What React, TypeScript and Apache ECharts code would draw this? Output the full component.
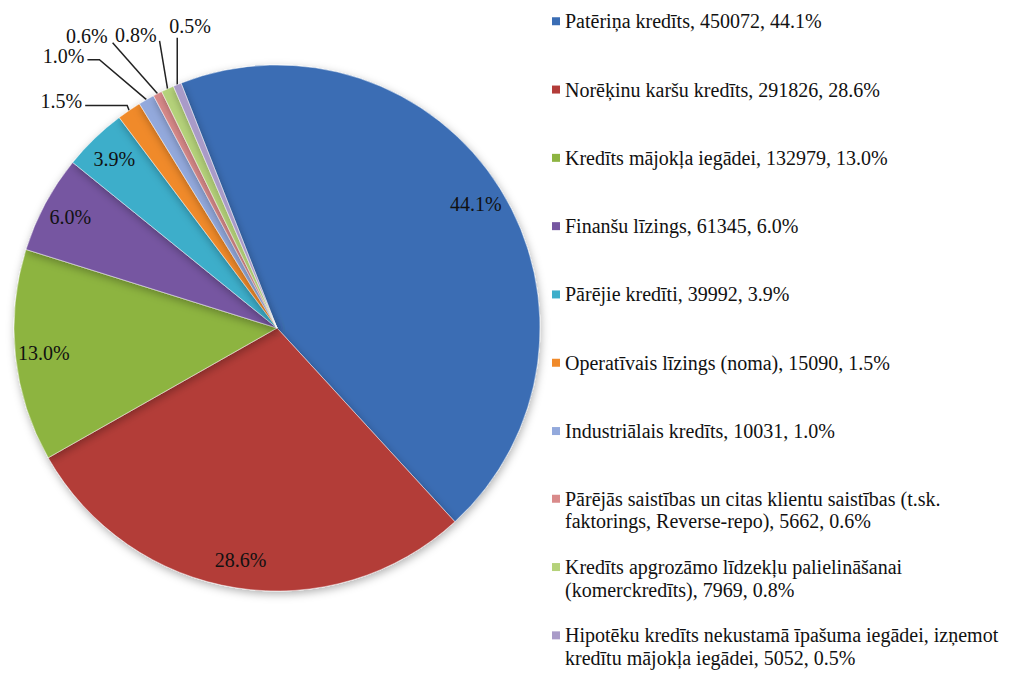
import React, { useEffect, useRef } from "react";
import * as echarts from "echarts";

// ---- data ----
const categories: string[] = [
  "Patēriņa kredīts",
  "Norēķinu karšu kredīts",
  "Kredīts mājokļa iegādei",
  "Finanšu līzings",
  "Pārējie kredīti",
  "Operatīvais līzings (noma)",
  "Industriālais kredīts",
  "Pārējās saistības un citas klientu saistības (t.sk.\nfaktorings, Reverse-repo)",
  "Kredīts apgrozāmo līdzekļu palielināšanai\n(komerckredīts)",
  "Hipotēku kredīts nekustamā īpašuma iegādei, izņemot\nkredītu mājokļa iegādei",
];
const values: number[] = [450072, 291826, 132979, 61345, 39992, 15090, 10031, 5662, 7969, 5052];
const colors: string[] = [
  "#3a6db4",
  "#b33c39",
  "#8db441",
  "#7657a1",
  "#3daeca",
  "#f08a2a",
  "#93a9dc",
  "#d98a8a",
  "#b5d27a",
  "#a99bc8",
];
const insideLabelIdx: number[] = [0, 1, 2, 3, 4];

// ---- layout of leader lines for small slices (offsets from slice edge anchor) ----
const smallLabelLayout: Record<number, { line: number[][]; dx: number; dy: number; align: string }> = {
  5: { line: [[0, 0], [-2, -5], [-44, -5]], dx: -47, dy: -9, align: "right" },
  6: { line: [[0, 0], [-47, -40], [-59, -40]], dx: -62, dy: -44, align: "right" },
  7: { line: [[0, 0], [-45, -51]], dx: -50, dy: -58, align: "right" },
  8: { line: [[0, 0], [-8, -48]], dx: -11, dy: -54, align: "right" },
  9: { line: [[0, 0], [0, -47]], dx: -8, dy: -59, align: "left" },
};

const total = values.reduce((a, b) => a + b, 0);
const pct = (v: number) => ((v / total) * 100).toFixed(1);
const FONT = "'Liberation Serif', 'Times New Roman', serif";

export default function App() {
  const ref = useRef<HTMLDivElement>(null);
  useEffect(() => {
    if (!ref.current) return;
    const chart = echarts.init(ref.current, undefined, { renderer: "svg" });
    const center = [277, 328];
    const R = 263;
    const legendText = (name: string) => {
      const i = categories.indexOf(name);
      return `${name}, ${values[i]}, ${pct(values[i])}%`;
    };
    chart.setOption({
      animation: false,
      backgroundColor: "#ffffff",
      legend: [
        {
          orient: "vertical",
          left: 552,
          top: 10,
          padding: 0,
          itemWidth: 8,
          itemHeight: 8,
          itemGap: 45.8,
          icon: "rect",
          selectedMode: false,
          itemStyle: { borderWidth: 0 },
          data: categories.slice(0, 7),
          formatter: legendText,
          textStyle: { fontFamily: FONT, fontSize: 20, color: "#111", lineHeight: 22.5 },
        },
        {
          orient: "vertical",
          left: 552,
          top: 465,
          padding: 0,
          itemWidth: 8,
          itemHeight: 8,
          itemGap: 0.8,
          icon: "rect",
          selectedMode: false,
          itemStyle: { borderWidth: 0 },
          data: categories.slice(7),
          formatter: (name: string) => "\n" + legendText(name),
          textStyle: { fontFamily: FONT, fontSize: 20, color: "#111", lineHeight: 22.5 },
        },
      ],
      series: [
        {
          type: "pie",
          center,
          radius: R,
          startAngle: 111.4,
          clockwise: true,
          label: { show: false },
          labelLine: { show: false },
          emphasis: { disabled: true },
          itemStyle: {
            borderColor: "rgba(255,255,255,0.45)",
            borderWidth: 1,
            shadowBlur: 8,
            shadowColor: "rgba(0,0,0,0.3)",
            shadowOffsetX: 1,
            shadowOffsetY: 3,
          },
          data: categories.map((name, i) => ({
            name,
            value: values[i],
            itemStyle: { color: colors[i] },
          })),
        },
        {
          type: "pie",
          center,
          radius: [200, R],
          startAngle: 111.4,
          clockwise: true,
          silent: true,
          avoidLabelOverlap: false,
          emphasis: { disabled: true },
          itemStyle: { color: "rgba(0,0,0,0)", borderWidth: 0 },
          labelLine: { show: true, lineStyle: { color: "#222", width: 1.5 } },
          labelLayout: (p: any) => {
            const cfg = smallLabelLayout[p.dataIndex];
            if (!cfg || !p.labelLinePoints) return {};
            const [x0, y0] = p.labelLinePoints[0];
            return {
              x: x0 + cfg.dx,
              y: y0 + cfg.dy,
              align: cfg.align,
              verticalAlign: "middle",
              labelLinePoints: cfg.line.map(([a, b]) => [x0 + a, y0 + b]),
            };
          },
          data: categories.map((name, i) => ({
            name,
            value: values[i],
            label: {
              show: true,
              position: insideLabelIdx.includes(i) ? "inside" : "outside",
              formatter: () => `${pct(values[i])}%`,
              fontFamily: FONT,
              fontSize: 20,
              color: "#111",
            },
            labelLine: { show: !insideLabelIdx.includes(i) },
          })),
        },
      ],
    });
    return () => chart.dispose();
  }, []);
  return (
    <div
      ref={ref}
      style={{ position: "absolute", left: 0, top: 0, width: 1014, height: 673 }}
    />
  );
}
